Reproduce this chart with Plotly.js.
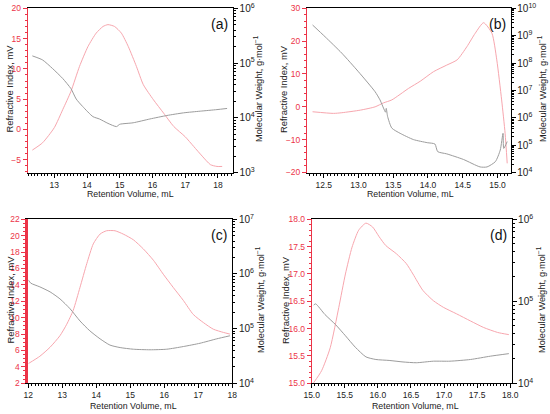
<!DOCTYPE html>
<html>
<head>
<meta charset="utf-8">
<script src="https://cdn.plot.ly/plotly-3.0.1.min.js"></script>
<style>html,body{margin:0;padding:0;background:#fff;}#plot{width:550px;height:414px;}</style>
</head>
<body>
<div id="plot"></div>
<script>
// ---------- Panel (a) ----------
const a_riVol = [12.33,12.64,13.0,13.26,13.51,13.77,14.03,14.28,14.49,14.64,14.84,15.05,15.26,15.51,15.72,16.03,16.34,16.65,17.0,17.26,17.52,17.77,17.97,18.13];
const a_ri    = [-3.4,-2.2,0.3,3.3,6.3,10.4,13.7,15.9,17.0,17.3,17.0,15.9,13.7,10.4,7.4,4.9,2.7,0.5,-1.2,-2.8,-4.4,-5.8,-6.1,-6.1];
const a_mwVol = [12.33,12.64,12.95,13.26,13.51,13.67,13.87,14.18,14.38,14.64,14.90,15.0,15.41,15.92,16.44,16.95,17.46,17.97,18.28];
const a_mw    = [1.35e5,1.14e5,7.9e4,5.2e4,3.4e4,2.2e4,1.6e4,1.05e4,9.5e3,7.9e3,6.9e3,7.6e3,8.1e3,9.5e3,1.1e4,1.23e4,1.32e4,1.41e4,1.48e4];
// ---------- Panel (b) ----------
const b_riVol = [12.34,12.64,12.76,13.03,13.24,13.36,13.48,13.72,13.89,14.08,14.27,14.42,14.56,14.68,14.80,14.92,14.99,15.06,15.11,15.14];
const b_ri    = [-1.5,-2.0,-1.8,-1.0,0.0,1.2,2.1,5.6,7.8,10.7,12.7,14.3,18.3,22.4,25.6,22.4,14.3,2.1,-8.1,-17.2];
const b_mwVol = [12.34,12.52,12.76,13.0,13.24,13.31,13.39,13.40,13.42,13.48,13.60,13.79,13.99,14.10,14.14,14.27,14.51,14.75,14.85,14.97,15.04,15.08,15.09,15.14];
const b_mw    = [2.45e9,9.1e8,2.3e8,4.8e7,8.9e6,4.5e6,1.6e6,2.2e6,1.1e6,4.2e5,2.7e5,1.6e5,1.23e5,1.1e5,5.8e4,4.8e4,3.0e4,1.6e4,1.6e4,2.5e4,6.6e4,2.7e5,7.6e4,1.35e5];
// ---------- Panel (c) ----------
const c_riVol = [12.0,12.34,12.64,12.93,13.13,13.32,13.52,13.72,13.91,14.11,14.30,14.55,14.79,15.09,15.38,15.68,15.97,16.26,16.56,16.85,17.15,17.44,17.74,17.93];
const c_ri    = [4.4,5.3,6.4,7.8,9.2,10.9,13.7,16.6,19.0,20.2,20.6,20.6,20.2,19.5,18.4,17.0,15.3,13.7,12.1,10.4,9.4,8.6,8.2,8.0];
const c_mwVol = [12.0,12.07,12.34,12.64,12.93,13.23,13.52,13.81,14.11,14.40,14.70,15.09,15.58,16.07,16.56,17.05,17.54,17.93];
const c_mw    = [7.8e5,6.8e5,5.8e5,4.7e5,3.5e5,2.3e5,1.38e5,9.1e4,6.5e4,5.0e4,4.5e4,4.2e4,4.1e4,4.2e4,4.7e4,5.4e4,6.5e4,7.4e4];
// ---------- Panel (d) ----------
const d_riVol = [15.03,15.15,15.28,15.41,15.51,15.61,15.71,15.82,15.92,16.02,16.12,16.28,16.43,16.53,16.68,16.84,16.99,17.19,17.40,17.60,17.81,17.98];
const d_ri    = [15.01,15.23,15.65,16.39,17.0,17.49,17.80,17.93,17.86,17.68,17.52,17.37,17.19,17.0,16.70,16.51,16.39,16.27,16.14,16.02,15.93,15.89];
const d_mwVol = [15.03,15.06,15.20,15.36,15.51,15.66,15.82,15.97,16.17,16.38,16.58,16.84,17.09,17.40,17.70,17.98];
const d_mw    = [9.0e4,9.3e4,6.9e4,5.2e4,3.8e4,2.75e4,2.1e4,1.95e4,1.9e4,1.82e4,1.78e4,1.86e4,1.86e4,1.95e4,2.14e4,2.3e4];

const panelLabels = ['(a)','(b)','(c)','(d)'];
const xTitle = 'Retention Volume, mL';
const yTitleL = 'Refractive Index, mV';
const yTitleR = 'Molecular Weight, g·mol<sup>−1</sup>';

const RED_AX = '#ec3448';
const RED_LN = '#f7a6ae';
const GRAY_LN = '#9c9c9c';
const FONT = 'Liberation Sans, Arial, sans-serif';

const traces = [
  {x:a_riVol, y:a_ri, xaxis:'x', yaxis:'y'},
  {x:a_mwVol, y:a_mw, xaxis:'x', yaxis:'y2', mw:true},
  {x:b_riVol, y:b_ri, xaxis:'x2', yaxis:'y3'},
  {x:b_mwVol, y:b_mw, xaxis:'x2', yaxis:'y4', mw:true},
  {x:c_riVol, y:c_ri, xaxis:'x3', yaxis:'y5'},
  {x:c_mwVol, y:c_mw, xaxis:'x3', yaxis:'y6', mw:true},
  {x:d_riVol, y:d_ri, xaxis:'x4', yaxis:'y7'},
  {x:d_mwVol, y:d_mw, xaxis:'x4', yaxis:'y8', mw:true}
].map(t => ({
  x:t.x, y:t.y, xaxis:t.xaxis, yaxis:t.yaxis, type:'scatter', mode:'lines',
  line:{color: t.mw ? GRAY_LN : RED_LN, width:1, shape:'spline', smoothing:0.6},
  hoverinfo:'skip', showlegend:false
}));

function xAx(dom, range, dtick, minor, fmt, yanchor) {
  return {domain:dom, range:range, dtick:dtick, tick0:0, anchor:yanchor,
    showline:true, linecolor:'#000', linewidth:1, mirror:true, showgrid:false, zeroline:false,
    ticks:'outside', ticklen:4, tickwidth:1, tickcolor:'#000', tickformat:fmt,
    minor:{ticks:'outside', ticklen:2, dtick:minor, tickcolor:'#000', showgrid:false},
    tickfont:{family:FONT, size:8.5, color:'#222'}};
}
function yAxL(dom, range, dtick, minor, fmt, xanchor, lw) {
  return {domain:dom, range:range, dtick:dtick, tick0:0, anchor:xanchor,
    showline:true, linecolor:RED_AX, linewidth:lw||1, showgrid:false, zeroline:false,
    ticks:'outside', ticklen:4, tickwidth:1, tickcolor:RED_AX, tickformat:fmt,
    minor:{ticks:'outside', ticklen:2, dtick:minor, tickcolor:RED_AX, showgrid:false},
    tickfont:{family:FONT, size:8.5, color:RED_AX}};
}
function yAxR(over, range, xanchor) {
  return {overlaying:over, side:'right', type:'log', range:range, dtick:1, anchor:xanchor,
    showline:true, linecolor:'#000', linewidth:1, showgrid:false, zeroline:false,
    ticks:'outside', ticklen:4, tickwidth:1, tickcolor:'#000', exponentformat:'power',
    minor:{ticks:'outside', ticklen:2, dtick:'D1', tickcolor:'#000', showgrid:false},
    tickfont:{family:FONT, size:8, color:'#222'}};
}

// axis-title text placement (pixel centres in the 550x414 figure)
const W = 550, H = 414;
function txt(px, py, text, size, angle) {
  return {xref:'paper', yref:'paper', x:px / W, y:1 - py / H, xanchor:'center', yanchor:'middle',
    text:text, textangle:angle || 0, showarrow:false, font:{family:FONT, size:size, color:'#222'}};
}
const titleAnn = [
  txt(130, 194, xTitle, 8.8), txt(410, 194, xTitle, 8.8),
  txt(133, 406, xTitle, 8.8), txt(415, 406, xTitle, 8.8),
  txt(8.5, 89, yTitleL, 9.4, -90), txt(283, 89, yTitleL, 9.4, -90),
  txt(9.5, 300, yTitleL, 9.4, -90), txt(285, 300, yTitleL, 9.4, -90),
  txt(258, 89, yTitleR, 9.2, -90), txt(542, 89, yTitleR, 9.2, -90),
  txt(260, 300, yTitleR, 9.2, -90), txt(541, 300, yTitleR, 9.2, -90)
];

const topY = [0.5833, 0.98], botY = [0.0742, 0.4703];
const layout = {
  width:550, height:414, margin:{l:0, r:0, t:0, b:0},
  paper_bgcolor:'#fff', plot_bgcolor:'#fff', showlegend:false,
  xaxis:  xAx([0.0505, 0.4236], [12.19, 18.46], 1, 0.1, '', 'y'),
  yaxis:  yAxL(topY, [-7.1, 20], 5, 1, '', 'x'),
  yaxis2: yAxR('y', [3, 6], 'x'),
  xaxis2: xAx([0.5582, 0.9285], [12.26, 15.19], 0.5, 0.05, '.1f', 'y3'),
  yaxis3: yAxL(topY, [-20, 30], 10, 2, '', 'x2'),
  yaxis4: yAxR('y3', [4, 10], 'x2'),
  xaxis3: xAx([0.0515, 0.4224], [12, 18], 1, 0.1, '', 'y5'),
  yaxis5: yAxL(botY, [2, 22], 2, 0.5, '', 'x3', 3),
  yaxis6: yAxR('y5', [4, 7], 'x3'),
  xaxis4: xAx([0.5667, 0.9300], [15, 18.02], 0.5, 0.05, '.1f', 'y7'),
  yaxis7: yAxL(botY, [15, 18], 0.5, 0.1, '.1f', 'x4'),
  yaxis8: yAxR('y7', [4, 6], 'x4'),
  xaxis5: {overlaying:'x4', side:'top', anchor:'y7', range:[15, 18.02], showline:true,
    linecolor:'#9a9a9a', linewidth:3, showticklabels:false, ticks:'', showgrid:false, zeroline:false},
  annotations: [
    ['x','y'],['x2','y3'],['x3','y5'],['x4','y7']
  ].map((p, i) => ({
    xref:p[0] + ' domain', yref:p[1] + ' domain', x:0.985, y:0.965,
    xanchor:'right', yanchor:'top', text:panelLabels[i], showarrow:false,
    font:{family:FONT, size:14, color:'#111'}
  })).concat(titleAnn)
};

Plotly.newPlot('plot', traces, layout, {staticPlot:true, displayModeBar:false});
</script>
</body>
</html>
